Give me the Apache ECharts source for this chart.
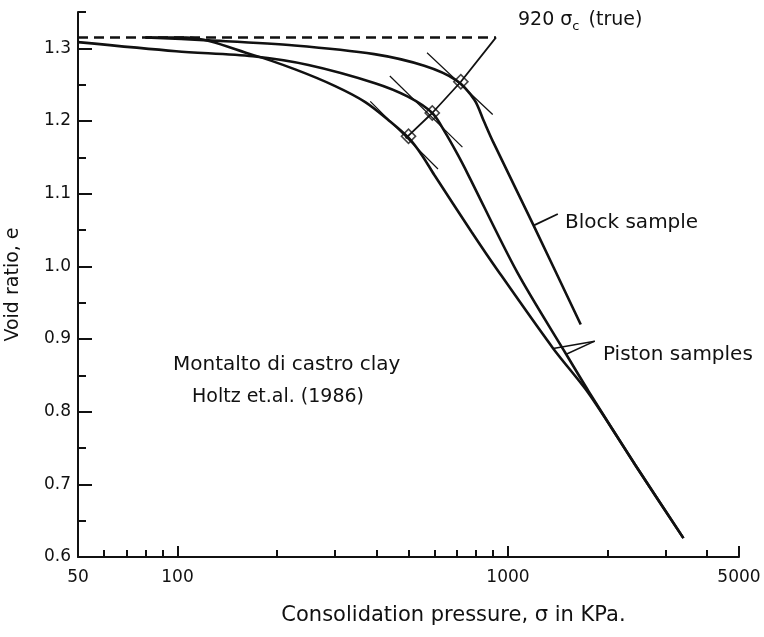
<!DOCTYPE html>
<html>
<head>
<meta charset="utf-8">
<script src="https://cdn.jsdelivr.net/npm/echarts@6/dist/echarts.min.js"></script>
<style>
  html, body { margin: 0; padding: 0; background: #fff; }
  #chart { width: 764px; height: 637px; }
</style>
</head>
<body>
<div id="chart"></div>
<script>
  // consolidation pressure (kPa) / void ratio pairs
  var blockP = [80, 124, 226, 394, 558, 698, 792, 845, 900, 1193, 1660]
  var blockE = [1.315, 1.311, 1.304, 1.292, 1.276, 1.256, 1.229, 1.200, 1.172, 1.057, 0.920]

  var pistonUpperP = [50, 99, 169, 249, 396, 498, 590, 646, 704, 756, 1066, 1500, 1754, 2433, 3395]
  var pistonUpperE = [1.3085, 1.296, 1.289, 1.277, 1.252, 1.2335, 1.211, 1.184, 1.154, 1.127, 0.992, 0.879, 0.828, 0.726, 0.626]

  var pistonLowerP = [80, 106, 169, 227, 300, 370, 441, 500, 549, 598, 777, 929, 1370, 1755, 2433, 3395]
  var pistonLowerE = [1.315, 1.315, 1.291, 1.271, 1.248, 1.226, 1.199, 1.177, 1.153, 1.126, 1.047, 0.995, 0.887, 0.825, 0.726, 0.626]

  // sigma_c (true) construction
  var sigmaTrue = 920
  var eZero = 1.315
  var dashP = [50, 920]
  var bisectorP = [920, 720, 590, 490]
  var bisectorE = [1.315, 1.254, 1.211, 1.176]
  var squareP = [720, 590, 500]
  var squareE = [1.254, 1.211, 1.179]
  var tangentBlockP = [569, 899]
  var tangentBlockE = [1.294, 1.209]
  var tangentUpperP = [439, 728]
  var tangentUpperE = [1.262, 1.164]
  var tangentLowerP = [383, 614]
  var tangentLowerE = [1.227, 1.134]
  var arrowE = [1.36, 1.315]

  // label leaders
  var blockLeaderP = [1193, 1415]
  var blockLeaderE = [1.056, 1.072]
  var pistonLeader1P = [1830, 1370]
  var pistonLeader1E = [0.897, 0.887]
  var pistonLeader2P = [1830, 1500]
  var pistonLeader2E = [0.897, 0.879]

  // axes
  var xMajorTicks = [100, 1000, 5000]
  var xMinorTicks = [60, 70, 80, 90, 200, 300, 400, 500, 600, 700, 800, 900, 2000, 3000, 4000]
  var xTickLabels = [50, 100, 1000, 5000]
  var yMajorTicks = [0.6, 0.7, 0.8, 0.9, 1.0, 1.1, 1.2, 1.3]
  var yMinorTicks = [0.65, 0.75, 0.85, 0.95, 1.05, 1.15, 1.25, 1.35]

  function pairs (xs, ys) {
    var out = []
    for (var i = 0; i < xs.length; i++) out.push([xs[i], ys[i]])
    return out
  }

  var ink = '#111'
  var font = 'DejaVu Sans'

  function thinLine (name, data, width) {
    return {
      name: name,
      type: 'line',
      data: data,
      symbol: 'none',
      silent: true,
      clip: false,
      lineStyle: {color: ink, width: width}
    }
  }

  function curve (name, data) {
    return {
      name: name,
      type: 'line',
      data: data,
      symbol: 'none',
      smooth: 0.3,
      lineStyle: {color: ink, width: 2.6}
    }
  }

  var myChart = echarts.init(document.getElementById('chart'))

  var option = {
    backgroundColor: '#fff',
    animation: false,
    grid: {left: 78, right: 25, top: 12, bottom: 80, outerBoundsMode: 'none'},
    xAxis: [
      {
        type: 'log',
        logBase: 10,
        min: 50,
        max: 5000,
        position: 'bottom',
        name: 'Consolidation pressure, σ in KPa.',
        nameLocation: 'middle',
        nameGap: 48,
        nameTextStyle: {fontFamily: font, fontSize: 21, color: ink, padding: [0, 0, 0, 90]},
        axisLine: {lineStyle: {color: ink, width: 2}},
        axisTick: {inside: true, length: 11, customValues: xMajorTicks, lineStyle: {color: ink, width: 2}},
        axisLabel: {
          customValues: xTickLabels,
          fontFamily: font,
          fontSize: 17,
          color: ink,
          margin: 12,
          formatter: function (v) { return String(Math.round(v)) }
        },
        splitLine: {show: false}
      },
      {
        type: 'log',
        logBase: 10,
        min: 50,
        max: 5000,
        position: 'bottom',
        axisLine: {show: false},
        axisTick: {inside: true, length: 7, customValues: xMinorTicks, lineStyle: {color: ink, width: 2}},
        axisLabel: {show: false},
        splitLine: {show: false}
      }
    ],
    yAxis: [
      {
        type: 'value',
        min: 0.6,
        max: 1.35,
        position: 'left',
        name: 'Void ratio, e',
        nameLocation: 'middle',
        nameGap: 55,
        nameTextStyle: {fontFamily: font, fontSize: 19, color: ink},
        axisLine: {show: true, lineStyle: {color: ink, width: 2}},
        axisTick: {show: true, inside: true, length: 14, customValues: yMajorTicks, lineStyle: {color: ink, width: 2}},
        axisLabel: {
          customValues: yMajorTicks,
          fontFamily: font,
          fontSize: 17,
          color: ink,
          margin: 7,
          formatter: function (v) { return v.toFixed(1) }
        },
        splitLine: {show: false}
      },
      {
        type: 'value',
        min: 0.6,
        max: 1.35,
        position: 'left',
        axisLine: {show: false},
        axisTick: {show: true, inside: true, length: 8, customValues: yMinorTicks, lineStyle: {color: ink, width: 2}},
        axisLabel: {show: false},
        splitLine: {show: false}
      }
    ],
    graphic: [
      {
        type: 'text', left: 518, top: 11,
        style: {
          text: '920 σ{sub|c} (true)',
          font: '19px "DejaVu Sans"',
          fill: ink,
          rich: {sub: {fontSize: 13, fontFamily: font, fill: ink, padding: [12, 3, 0, 0]}}
        }
      },
      {type: 'text', left: 565, top: 213, style: {text: 'Block sample', font: '20px "DejaVu Sans"', fill: ink}},
      {type: 'text', left: 603, top: 345, style: {text: 'Piston samples', font: '20px "DejaVu Sans"', fill: ink}},
      {type: 'text', left: 173, top: 355, style: {text: 'Montalto di castro clay', font: '20px "DejaVu Sans"', fill: ink}},
      {type: 'text', left: 192, top: 388, style: {text: 'Holtz et.al. (1986)', font: '19px "DejaVu Sans"', fill: ink}}
    ],
    series: [
      {
        name: 'e0',
        type: 'line',
        data: pairs(dashP, [eZero, eZero]),
        symbol: 'none',
        silent: true,
        clip: false,
        lineStyle: {color: ink, width: 2.5, type: [10, 6]},
        markLine: {
          silent: true,
          symbol: ['none', 'arrow'],
          symbolSize: [7, 10],
          label: {show: false},
          lineStyle: {color: ink, width: 1.5, type: 'solid'},
          data: [[{coord: [sigmaTrue, arrowE[0]]}, {coord: [sigmaTrue, arrowE[1]]}]]
        }
      },
      curve('Block sample', pairs(blockP, blockE)),
      curve('Piston sample 1', pairs(pistonUpperP, pistonUpperE)),
      curve('Piston sample 2', pairs(pistonLowerP, pistonLowerE)),
      thinLine('bisector', pairs(bisectorP, bisectorE), 1.8),
      thinLine('tangent block', pairs(tangentBlockP, tangentBlockE), 1.2),
      thinLine('tangent upper', pairs(tangentUpperP, tangentUpperE), 1.2),
      thinLine('tangent lower', pairs(tangentLowerP, tangentLowerE), 1.2),
      thinLine('block leader', pairs(blockLeaderP, blockLeaderE), 1.8),
      thinLine('piston leader 1', pairs(pistonLeader1P, pistonLeader1E), 1.5),
      thinLine('piston leader 2', pairs(pistonLeader2P, pistonLeader2E), 1.5),
      {
        name: 'squares',
        type: 'scatter',
        data: pairs(squareP, squareE),
        symbol: 'rect',
        symbolSize: 10,
        symbolRotate: 45,
        silent: true,
        itemStyle: {color: '#fff', borderColor: ink, borderWidth: 1.6}
      }
    ]
  }

  myChart.setOption(option)
</script>
</body>
</html>
